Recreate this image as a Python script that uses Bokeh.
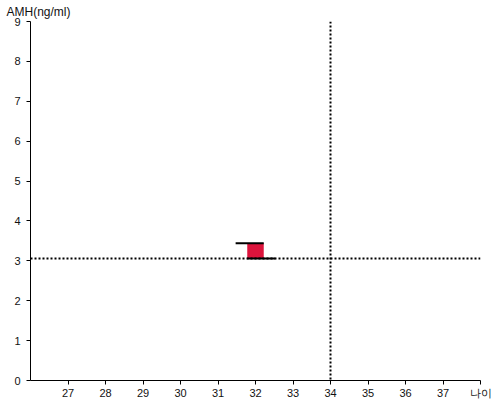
from bokeh.plotting import figure
from bokeh.models import Span, FixedTicker, Range1d
from bokeh.embed import file_html
from bokeh.resources import INLINE

# data
ages = [32]
amh_low = [3.06]
amh_high = [3.44]
ref_age = 34
ref_amh = 3.06
x_ticks = [27, 28, 29, 30, 31, 32, 33, 34, 35, 36, 37]
y_ticks = [0, 1, 2, 3, 4, 5, 6, 7, 8, 9]
x_min, x_max = 26, 38
y_min, y_max = 0, 9
x_label = "나이"
y_label = "AMH(ng/ml)"

half_w = 0.22
tick_ext = 0.31
FONT = "Liberation Sans"

p = figure(frame_width=450, frame_height=359,
           x_range=Range1d(x_min, x_max), y_range=Range1d(y_min, y_max),
           output_backend="svg", toolbar_location=None,
           min_border_left=30, min_border_right=20,
           min_border_top=21, min_border_bottom=20,
           background_fill_color="white")
p.outline_line_color = None
p.grid.visible = False

# y-axis caption as a left-aligned title above the frame
p.title.text = y_label
p.title.align = "left"
p.title.offset = -24
p.title.standoff = 5
p.title.text_font = FONT
p.title.text_font_size = "12px"
p.title.text_font_style = "normal"
p.title.text_color = "#111111"

for ax in (p.xaxis[0], p.yaxis[0]):
    ax.axis_line_color = "black"
    ax.major_tick_line_color = "black"
    ax.minor_tick_line_color = None
    ax.major_tick_out = 4
    ax.major_tick_in = 0
    ax.major_label_text_font = FONT
    ax.major_label_text_font_size = "11px"
    ax.major_label_text_color = "#111111"
# x-axis caption shown as the label at the right end of the axis
p.xaxis.ticker = FixedTicker(ticks=x_ticks + [x_max])
p.xaxis.major_label_overrides = {x_max: x_label}
p.yaxis.ticker = FixedTicker(ticks=y_ticks)
p.xaxis.major_label_standoff = 2
p.yaxis.major_label_standoff = 6

# reference lines
p.add_layout(Span(location=ref_age, dimension="height", line_color="black",
                  line_width=2, line_dash="2 2"))
p.add_layout(Span(location=ref_amh, dimension="width", line_color="black",
                  line_width=2, line_dash="2 2"))

left = [a - half_w for a in ages]
right = [a + half_w for a in ages]
p.quad(left=left, right=right, bottom=amh_low, top=amh_high,
       fill_color="#DC143C", line_color=None)
p.segment(x0=[l - tick_ext for l in left], x1=right, y0=amh_high, y1=amh_high,
          line_color="black", line_width=2)
p.segment(x0=left, x1=[r + tick_ext for r in right], y0=amh_low, y1=amh_low,
          line_color="black", line_width=2)

open("out.html", "w").write(file_html(p, INLINE))
